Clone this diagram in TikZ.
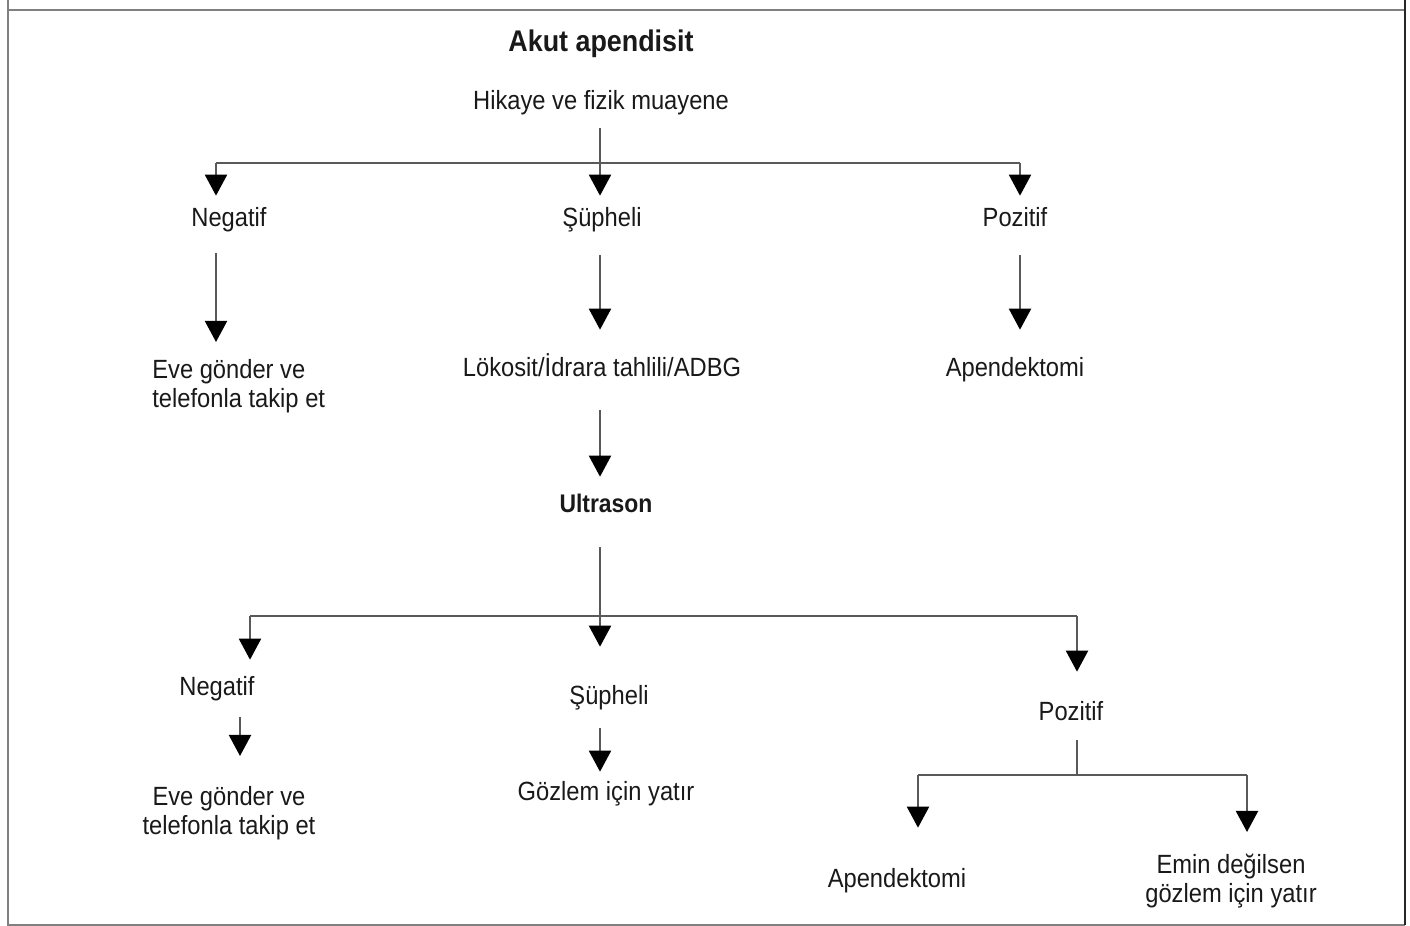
\documentclass[tikz,border=0pt]{standalone}
\usepackage{fontspec}
\setmainfont{Liberation Sans}[FakeStretch=0.9]
\usetikzlibrary{arrows.meta}

\tikzset{
    lbl/.style={anchor=base, inner sep=0pt, text height=10.5pt, text depth=3pt,
        text=black!90, font=\fontsize{15}{16.5}\selectfont},
    lbltwo/.style={anchor=north, inner sep=0pt, align=center,
        text=black!90, font=\fontsize{15}{16.5}\selectfont},
    ln/.style={draw=black!65, line width=1.4pt},
    arr/.style={ln, -{Triangle[length=12pt, width=12.5pt, color=black]}},
    frm/.style={draw=black!50, line width=1pt},
}

\begin{document}
\begin{tikzpicture}[x=0.02cm, y=-0.02cm]
    \useasboundingbox (0,0) rectangle (1410,926);

    % frame
    \draw[frm] (8,0) -- (8,925) -- (1405,925);
    \draw[frm] (8,10) -- (1405,10);
    \draw[draw=black!85, line width=1.2pt] (1405,0) -- (1405,925);

    % title
    \node[lbl, font=\fontsize{17}{19}\selectfont\bfseries] (title) at (601,52) {Akut apendisit};
    \node[lbl] (hik) at (601,110) {Hikaye ve fizik muayene};

    % first row
    \node[lbl] (neg1) at (229,226) {Negatif};
    \node[lbl] (sup1) at (602,226) {Şüpheli};
    \node[lbl] (pos1) at (1015,226) {Pozitif};

    \node[lbltwo, anchor=north west, align=left] (eve1) at (152,359) {Eve gönder ve\\telefonla takip et};
    \node[lbl] (lok) at (602,376) {Lökosit/İdrara tahlili/ADBG};
    \node[lbl] (apd1) at (1015,376) {Apendektomi};

    \node[lbl, font=\fontsize{14.5}{16.5}\selectfont\bfseries] (ultra) at (606,512) {Ultrason};

    % second row
    \node[lbl] (neg2) at (217,695) {Negatif};
    \node[lbl] (sup2) at (609,704) {Şüpheli};
    \node[lbl] (pos2) at (1071,720) {Pozitif};

    \node[lbltwo] (eve2) at (229,786) {Eve gönder ve\\telefonla takip et};
    \node[lbl] (goz) at (606,800) {Gözlem için yatır};
    \node[lbl] (apd2) at (897,887) {Apendektomi};
    \node[lbltwo] (emin) at (1231,854) {Emin değilsen\\gözlem için yatır};

    % branch points
    \coordinate (b1L) at (216,163);
    \coordinate (b1M) at (600,163);
    \coordinate (b1R) at (1020,163);
    \coordinate (b2L) at (250,616);
    \coordinate (b2M) at (600,616);
    \coordinate (b2R) at (1077,616);
    \coordinate (xA) at (240,0);
    \coordinate (b3L) at (918,775);
    \coordinate (b3M) at (1077,775);
    \coordinate (b3R) at (1247,775);

    % history -> first row
    \draw[arr, shorten <=0.25cm, shorten >=0.23cm] (hik.south -| b1M) -- (sup1.north -| b1M);
    \draw[ln] (b1L) -- (b1R);
    \draw[arr, shorten >=0.23cm] (b1L) -- (neg1.north -| b1L);
    \draw[arr, shorten >=0.23cm] (b1R) -- (pos1.north -| b1R);

    % first row -> results
    \draw[arr, shorten <=0.43cm, shorten >=0.34cm] (neg1.south -| b1L) -- (eve1.north -| b1L);
    \draw[arr, shorten <=0.47cm, shorten >=0.55cm] (sup1.south -| b1M) -- (lok.north -| b1M);
    \draw[arr, shorten <=0.47cm, shorten >=0.55cm] (pos1.south -| b1R) -- (apd1.north -| b1R);
    \draw[arr, shorten <=0.57cm, shorten >=0.33cm] (lok.south -| b1M) -- (ultra.north -| b1M);

    % ultrasound -> second row
    \draw[arr, shorten <=0.59cm, shorten >=0.77cm] (ultra.south -| b2M) -- (sup2.north -| b2M);
    \draw[ln] (b2L) -- (b2R);
    \draw[arr, shorten >=0.33cm] (b2L) -- (neg2.north -| b2L);
    \draw[arr, shorten >=0.59cm] (b2R) -- (pos2.north -| b2R);

    % second row -> results
    \draw[arr, shorten <=0.33cm, shorten >=0.6cm] (neg2.south -| xA) -- (eve2.north -| xA);
    \draw[arr, shorten <=0.37cm, shorten >=0.19cm] (sup2.south -| b2M) -- (goz.north -| b2M);
    \draw[ln, shorten <=0.29cm] (pos2.south -| b3M) -- (b3M);
    \draw[ln] (b3L) -- (b3R);
    \draw[arr, shorten >=0.81cm] (b3L) -- (apd2.north -| b3L);
    \draw[arr, shorten >=0.44cm] (b3R) -- (emin.north -| b3R);

\end{tikzpicture}
\end{document}
